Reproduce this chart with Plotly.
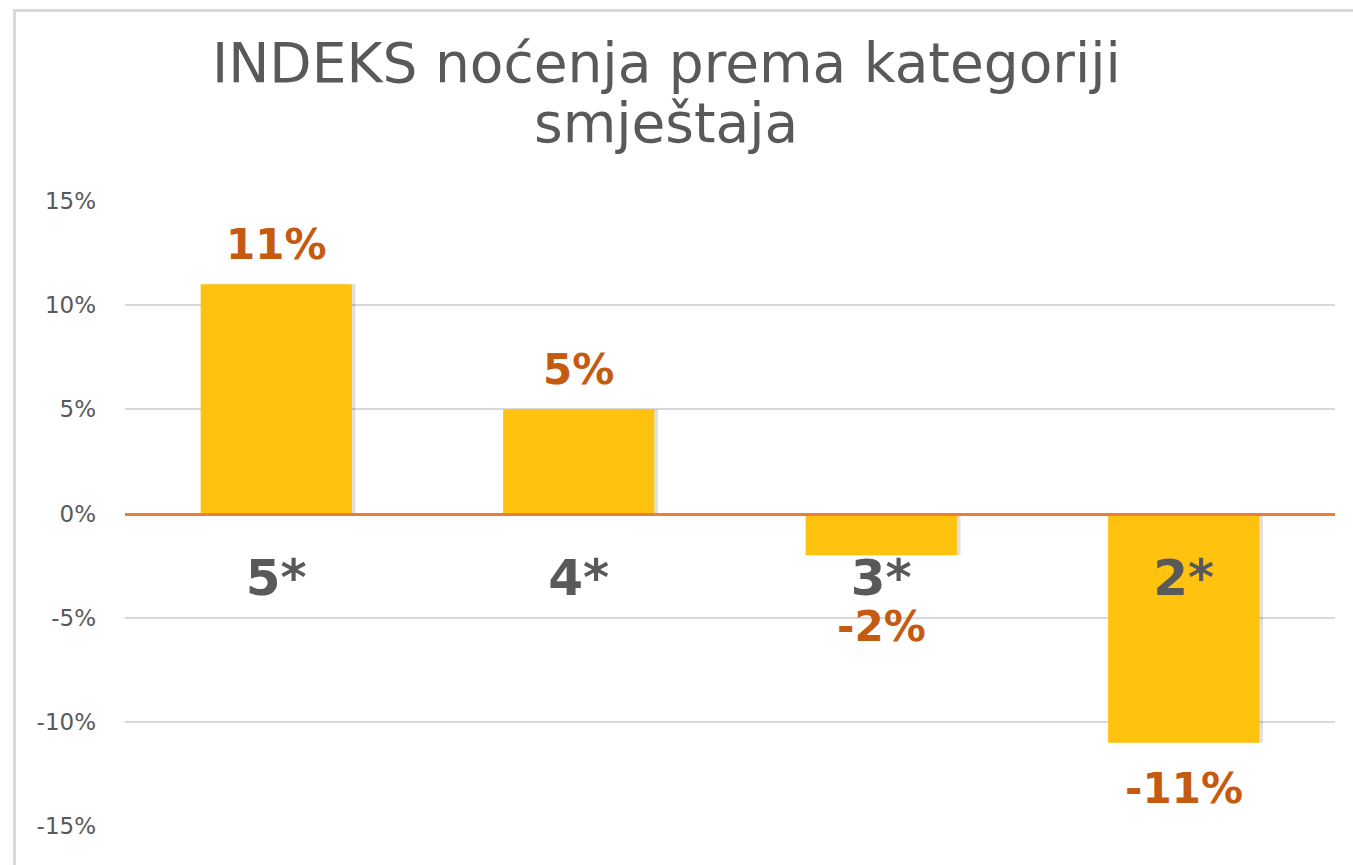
import plotly.graph_objects as go

# ---- data ----
categories = ["5*", "4*", "3*", "2*"]
values = [11, 5, -2, -11]            # percent
value_labels = ["11%", "5%", "-2%", "-11%"]
tick_vals = [15, 10, 5, 0, -5, -10, -15]
tick_text = ["15%", "10%", "5%", "0%", "-5%", "-10%", "-15%"]
title_lines = ["INDEKS noćenja prema kategoriji", "smještaja"]

W, H = 1353, 865
ML, MR, MT, MB = 125, 18, 201, 39
PW, PH = W - ML - MR, H - MT - MB
YMIN, YMAX = -15, 15

def px_x(px):
    return (px - ML) / PW

def px_y(py):
    return (H - MB - py) / PH

fig = go.Figure()

# soft shadow
fig.add_trace(go.Bar(
    x=categories, y=values, width=0.5, offset=-0.238,
    marker=dict(color="rgba(0,0,0,0.12)", line=dict(width=0)),
    hoverinfo="skip", showlegend=False,
))
fig.add_trace(go.Bar(
    x=categories, y=values, width=0.5, offset=-0.25,
    marker=dict(color="#FFC20E", line=dict(width=0)),
    showlegend=False,
))

# value labels
LABEL_CLEAR = 3.25
lab_font = dict(family="DejaVu Sans", size=42, color="#C55A11", weight="bold")
for c, v, t in zip(categories, values, value_labels):
    if v >= 0:
        fig.add_annotation(x=c, y=v, text=t, showarrow=False, yanchor="bottom",
                           yshift=13, font=lab_font)
    else:
        fig.add_annotation(x=c, y=min(v, -LABEL_CLEAR), text=t, showarrow=False,
                           yanchor="top", yshift=-19, font=lab_font)

# title (two lines, tight spacing)
title_font = dict(family="DejaVu Sans", size=55, color="#595959")
fig.add_annotation(xref="paper", yref="paper", x=px_x(666), y=px_y(97),
                   text=title_lines[0], showarrow=False, xanchor="center",
                   yanchor="bottom", font=title_font)
fig.add_annotation(xref="paper", yref="paper", x=px_x(666), y=px_y(157),
                   text=title_lines[1], showarrow=False, xanchor="center",
                   yanchor="bottom", font=title_font)

# chart frame border (left and top)
fig.add_shape(type="line", xref="paper", yref="paper",
              x0=px_x(14.5), x1=px_x(14.5), y0=px_y(10), y1=px_y(870),
              line=dict(color="#D9D9D9", width=3))
fig.add_shape(type="line", xref="paper", yref="paper",
              x0=px_x(13), x1=px_x(1360), y0=px_y(10.5), y1=px_y(10.5),
              line=dict(color="#D9D9D9", width=3))

fig.update_layout(
    width=W, height=H,
    margin=dict(l=ML, r=MR, t=MT, b=MB, autoexpand=False),
    paper_bgcolor="white", plot_bgcolor="white",
    barmode="overlay",
    xaxis=dict(
        type="category", anchor="free",
        position=(0 - YMIN) / (YMAX - YMIN),
        showline=True, linecolor="#ED7D31", linewidth=3,
        showgrid=False, ticks="", ticklabelstandoff=19,
        tickfont=dict(family="DejaVu Sans", size=50, color="#595959", weight="bold"),
        layer="above traces",
    ),
    yaxis=dict(
        range=[YMIN, YMAX], tickvals=tick_vals, ticktext=tick_text,
        showgrid=True, gridcolor="#D9D9D9", gridwidth=2,
        zeroline=False, showline=False, ticks="", ticklabelstandoff=28,
        tickfont=dict(family="DejaVu Sans", size=23, color="#595959"),
    ),
)

fig.write_html("out.html", config={"displayModeBar": False},
               post_script="document.body.style.margin='0';document.body.style.padding='0';")
